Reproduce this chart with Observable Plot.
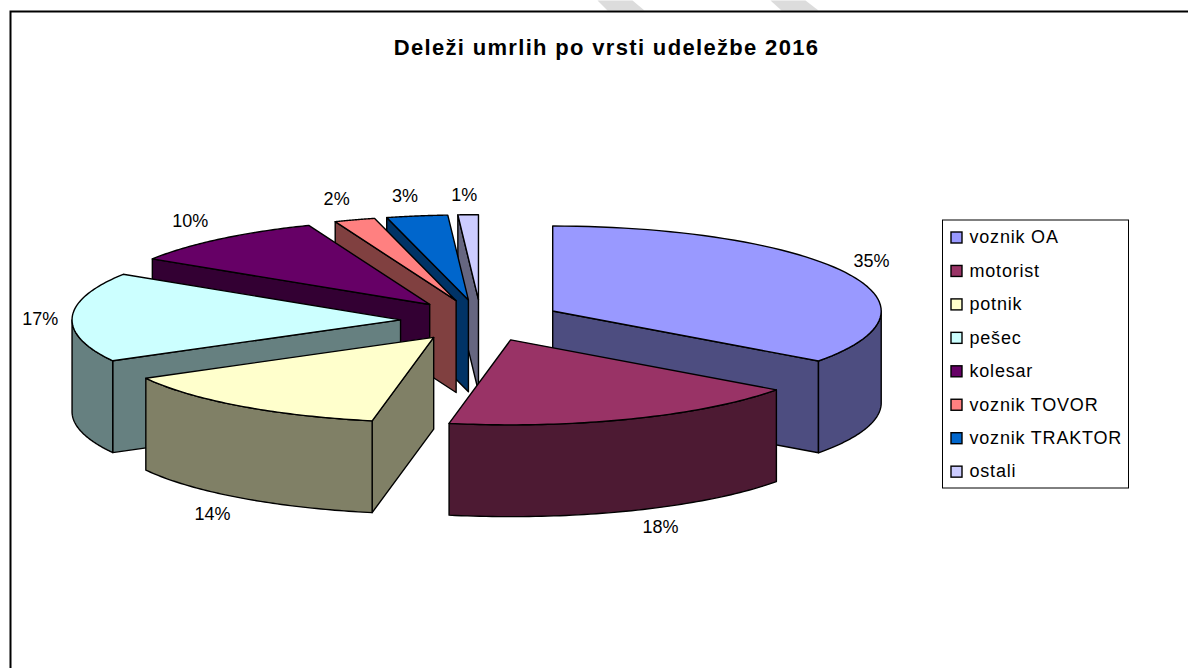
<!DOCTYPE html>
<html><head><meta charset="utf-8">
<style>html,body{margin:0;padding:0;background:#fff}svg{display:block}
.chart-title text{letter-spacing:1.33px}
.legend-label text{letter-spacing:0.8px}</style>
<script src="https://cdn.jsdelivr.net/npm/d3@7"></script>
<script src="https://cdn.jsdelivr.net/npm/@observablehq/plot@0.6"></script>
</head><body><div id="chart"></div>
<script>
const categories = ["voznik OA","motorist","potnik","pešec","kolesar","voznik TOVOR","voznik TRAKTOR","ostali"];
const shares = [35,18,14,17,10,2,3,1];
const topColors = ["#9999FF","#993366","#FFFFCC","#CCFFFF","#660066","#FF8080","#0066CC","#CCCCFF"];
const sideColors = ["#4D4D80","#4D1A33","#808066","#668080","#330033","#804040","#003366","#666680"];
const title = "Deleži umrlih po vrsti udeležbe 2016";

// pie layout
const W = 1188, H = 668, CX = 480.5, CY = 320, RX = 328.5, RY = 85;
const EXPLODE = 0.245, DEPTH = 1.08, LINE = 1.4, FONT = "Liberation Sans, Arial, sans-serif";
const rad = d => d * Math.PI / 180;
const total = d3.sum(shares);
let acc = 0;
const slices = shares.map((v, i) => {
  const a0 = acc / total * 360; acc += v; const a1 = acc / total * 360;
  const mid = rad((a0 + a1) / 2);
  return {i, v, a0, a1, mid, cx: EXPLODE * Math.sin(mid), cy: EXPLODE * Math.cos(mid)};
});
const pt = (s, a, dz = 0) => ({x: s.cx + Math.sin(rad(a)), y: s.cy + Math.cos(rad(a)) - dz});
const arc = (s, a0, a1, dz = 0) => d3.range(0, 61).map(k => pt(s, a0 + (a1 - a0) * k / 60, dz));
const apex = (s, dz = 0) => ({x: s.cx, y: s.cy - dz});
const poly = (pts, fill) => Plot.line(pts, {x: "x", y: "y", fill, stroke: "#000", strokeWidth: LINE, curve: "linear-closed", strokeLinejoin: "round"});

const marks = [];

// faint stripes that the source page shows above the chart's border
const stripeLeftEdges = [[597, 607], [770, 781]];
for (const [t, b] of stripeLeftEdges) {
  const px = (x, y) => ({x: (x - CX) / RX, y: (CY - y) / RY});
  marks.push(Plot.line([px(t, 0), px(t + 35, 0), px(b + 37, 10), px(b, 10)], {x: "x", y: "y", fill: "#dcdcdc", curve: "linear-closed"}));
}

// back-to-front by apex height
for (const s of [...slices].sort((p, q) => q.cy - p.cy)) {
  const side = sideColors[s.i];
  if (Math.cos(rad(s.a0 - 90)) < -1e-6)
    marks.push(poly([apex(s), pt(s, s.a0), pt(s, s.a0, DEPTH), apex(s, DEPTH)], side));
  if (Math.cos(rad(s.a1 + 90)) < -1e-6)
    marks.push(poly([apex(s), pt(s, s.a1), pt(s, s.a1, DEPTH), apex(s, DEPTH)], side));
  const r0 = Math.max(s.a0, 90), r1 = Math.min(s.a1, 270);
  if (r1 > r0)
    marks.push(poly([...arc(s, r0, r1), ...arc(s, r1, r0, DEPTH)], side));
  marks.push(poly([apex(s), ...arc(s, s.a0, s.a1)], topColors[s.i]));
}

// percentage labels, anchored on each slice's rim
const labelNudge = [[26,-11],[29,17],[-28,16],[-32,2],[-30,-18],[-18,-21],[-12,-20],[-4,-19]];
slices.forEach((s, k) => {
  const front = s.mid > rad(90) && s.mid < rad(270);
  const p = pt(s, (s.a0 + s.a1) / 2, front ? DEPTH : 0);
  marks.push(Plot.text([p], {x: "x", y: "y", text: () => s.v + "%", dx: labelNudge[k][0], dy: labelNudge[k][1],
    fontSize: 18, fill: "#000", fontFamily: FONT}));
});

// chart border: left and top only stay inside the picture
marks.push(Plot.frame({stroke: "#000", strokeWidth: 2, insetLeft: 10, insetTop: 11, insetRight: -20, insetBottom: -20}));

// title
marks.push(Plot.text([title], {className: "chart-title", frameAnchor: "top-left", dx: 606, dy: 47, textAnchor: "middle", lineAnchor: "middle",
  fontSize: 22, fontWeight: "bold", fill: "#000", fontFamily: FONT}));

// legend
marks.push(Plot.frame({stroke: "#000", strokeWidth: 1, fill: "#fff", insetLeft: 942, insetTop: 219.5, insetRight: W - 1128, insetBottom: H - 487.5}));
categories.forEach((c, i) => {
  const y = 237 + i * 33.45;
  marks.push(Plot.frame({stroke: "#000", strokeWidth: 1.4, fill: topColors[i], insetLeft: 950.5, insetTop: y - 5.5, insetRight: W - 961.5, insetBottom: H - (y + 5.5)}));
  marks.push(Plot.text([c], {className: "legend-label", frameAnchor: "top-left", dx: 969, dy: y, textAnchor: "start", lineAnchor: "middle",
    fontSize: 18, fill: "#000", fontFamily: FONT}));
});

const plot = Plot.plot({
  width: W, height: H, margin: 0,
  x: {domain: [-1, 1], range: [CX - RX, CX + RX], axis: null},
  y: {domain: [-1, 1], range: [CY + RY, CY - RY], axis: null},
  style: {background: "#fff"},
  marks
});
document.getElementById("chart").append(plot);
</script></body></html>
